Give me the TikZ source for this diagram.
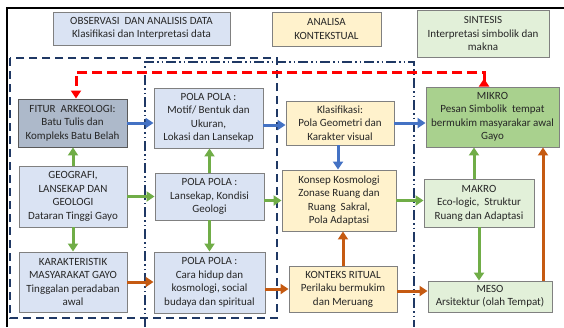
\documentclass[tikz,border=0pt]{standalone}
\usepackage{fontspec}
\setmainfont{Carlito}
\usetikzlibrary{arrows.meta}
\definecolor{bluebox}{HTML}{DAE3F3}
\definecolor{fiturbox}{HTML}{ADB9CA}
\definecolor{creambox}{HTML}{FFF2CC}
\definecolor{greenbox}{HTML}{E2F0D9}
\definecolor{mikrobox}{HTML}{A9D18E}
\definecolor{navy}{HTML}{1F3864}
\definecolor{arrblue}{HTML}{4472C4}
\definecolor{arrgreen}{HTML}{70AD47}
\definecolor{arrorange}{HTML}{C55A11}
\definecolor{txt}{HTML}{262626}
\tikzset{
  box/.style={draw=black!50, line width=0.9pt, align=center, text=txt,
    font=\fontsize{11}{13.5}\selectfont, inner sep=1pt},
  bluen/.style={box, fill=bluebox},
  fitur/.style={box, fill=fiturbox, draw=black!65},
  cream/.style={box, fill=creambox},
  greenn/.style={box, fill=greenbox},
  mikro/.style={box, fill=mikrobox},
  conn/.style={line width=3pt, -{Triangle[length=8pt,width=10pt]}},
  barrow/.style={conn, draw=arrblue, fill=arrblue},
  garrow/.style={conn, draw=arrgreen, fill=arrgreen},
  oarrow/.style={conn, draw=arrorange, fill=arrorange},
  redarrow/.style={line width=3pt, draw=red, dash pattern=on 10pt off 5pt,
    {Triangle[reversed,length=8pt,width=10pt]}-{Triangle[length=8pt,width=10pt]}},
  navydash/.style={draw=navy, line width=1.5pt, dash pattern=on 8pt off 5pt},
  navydashdot/.style={draw=navy, line width=1.5pt,
    dash pattern=on 10pt off 3pt on 1.5pt off 3pt on 1.5pt off 3pt},
}
\begin{document}
\begin{tikzpicture}[x=1pt,y=-1pt]
\useasboundingbox (0,0) rectangle (564,327);
\fill[white] (0,0) rectangle (564,327);
% outer frame
\draw[line width=2pt] (7,327) -- (7,8) -- (564,8);
% grouping rectangles
\draw[navydash] (10,58) rectangle (277,318);
\draw[navydashdot] (145,327) -- (145,62) -- (414,62) -- (414,327);
% headers
\node[bluen, minimum width=177pt, minimum height=33pt] (obs) at (141.5,28.5)
  {OBSERVASI\ \ DAN ANALISIS DATA\\Klasifikasi dan Interpretasi data};
\node[cream, minimum width=109pt, minimum height=34pt] (ana) at (326.5,29)
  {ANALISA\\KONTEKSTUAL};
\node[greenn, minimum width=132pt, minimum height=47pt] (sin) at (483,33.5)
  {SINTESIS\\Interpretasi simbolik dan\\makna};
% row 1
\node[fitur, minimum width=109pt, minimum height=48pt] (fitur) at (72.5,123)
  {FITUR\ \ ARKEOLOGI:\\Batu Tulis dan\\Kompleks Batu Belah};
\node[bluen, minimum width=109pt, minimum height=60pt] (pola1) at (208.5,118)
  {POLA POLA :\\Motif/ Bentuk dan\\Ukuran,\\Lokasi dan Lansekap};
\node[cream, minimum width=108pt, minimum height=44pt] (klas) at (340,123)
  {Klasifikasi:\\Pola Geometri dan\\Karakter visual};
\node[mikro, minimum width=133pt, minimum height=60pt] (mikro) at (492.5,117)
  {MIKRO\\Pesan Simbolik\ \ tempat\\bermukim masyarakar awal\\Gayo};
% row 2
\node[bluen, minimum width=108pt, minimum height=61pt] (geo) at (73,196.5)
  {GEOGRAFI,\\LANSEKAP DAN\\GEOLOGI\\Dataran Tinggi Gayo};
\node[bluen, minimum width=109pt, minimum height=47pt] (pola2) at (209.5,196.5)
  {POLA POLA :\\Lansekap, Kondisi\\Geologi};
\node[cream, minimum width=114pt, minimum height=61pt] (konsep) at (339,200.5)
  {Konsep Kosmologi\\Zonase Ruang dan\\Ruang\ \ Sakral,\\Pola Adaptasi};
\node[greenn, minimum width=110pt, minimum height=48pt] (makro) at (479,203)
  {MAKRO\\Eco-logic,\ \ Struktur\\Ruang dan Adaptasi};
% row 3
\node[bluen, minimum width=108pt, minimum height=60pt] (kar) at (73,282)
  {KARAKTERISTIK\\MASYARAKAT GAYO\\Tinggalan peradaban\\awal};
\node[bluen, minimum width=111pt, minimum height=61pt] (pola3) at (209.5,282.5)
  {POLA POLA :\\Cara hidup dan\\kosmologi, social\\budaya dan spiritual};
\node[cream, minimum width=108pt, minimum height=46pt] (kont) at (343,289)
  {KONTEKS RITUAL\\Perilaku bermukim\\dan Meruang};
\node[greenn, minimum width=124pt, minimum height=31pt] (meso) at (490,296.5)
  {MESO\\Arsitektur (olah Tempat)};
% red feedback connector
\draw[redarrow] (mikro.north -| 484,0) -- ++(0,-14) -| (fitur.north -| 76,0);
% blue arrows
\draw[barrow] (fitur.east) -- (fitur.east -| pola1.west);
\draw[barrow] (pola1.east |- 0,125) -- (klas.west |- 0,125);
\draw[barrow] (klas.east) -- (klas.east -| mikro.west);
\draw[barrow] (klas.south -| 338,0) -- (konsep.north -| 338,0);
% green arrows
\draw[garrow] (geo.north) -- (geo.north |- fitur.south);
\draw[garrow] (geo.east) -- (geo.east -| pola2.west);
\draw[garrow] (geo.south) -- (geo.south |- kar.north);
\draw[garrow] (pola2.north) -- (pola2.north |- pola1.south);
\draw[garrow] (pola2.east |- konsep.west) -- (konsep.west);
\draw[garrow] (pola2.south) -- (pola2.south |- pola3.north);
\draw[garrow] (konsep.east) -- (konsep.east -| makro.west);
\draw[garrow] (makro.north -| 474,0) -- (mikro.south -| 474,0);
\draw[garrow] (makro.south) -- (makro.south |- meso.north);
% orange arrows
\draw[oarrow] (kar.east) -- (kar.east -| pola3.west);
\draw[oarrow] (pola3.east |- kont.west) -- (kont.west);
\draw[oarrow] (kont.north) -- (kont.north |- konsep.south);
\draw[oarrow] (kont.east |- 0,291) -- (meso.west |- 0,291);
\draw[oarrow] (meso.north -| 543,0) -- (mikro.south -| 543,0);
\end{tikzpicture}
\end{document}
